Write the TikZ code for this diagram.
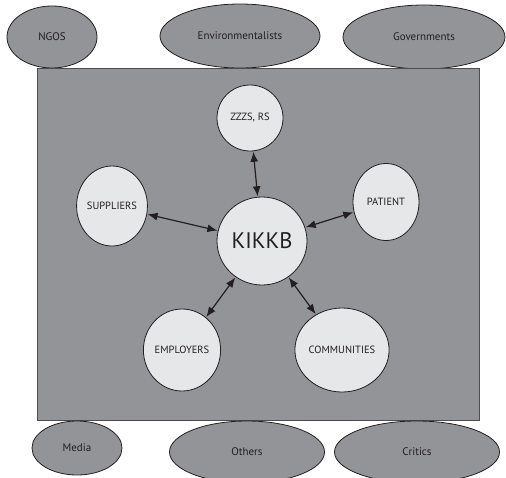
\documentclass[tikz,border=0pt]{standalone}
\usepackage{fontspec}
\setmainfont{PT Sans}
\usetikzlibrary{arrows.meta,shapes.geometric}
\definecolor{panel}{RGB}{147,148,152}
\definecolor{inner}{RGB}{230,231,232}
\definecolor{ink}{RGB}{35,31,32}
\tikzset{
  outer/.style={ellipse,draw=ink,line width=0.8pt,fill=panel,inner sep=0pt,text=ink,font=\fontsize{11}{13}\selectfont},
  stake/.style={ellipse,draw=ink,line width=0.8pt,fill=inner,inner sep=0pt,text=ink,font=\fontsize{10.5}{12}\selectfont},
  link/.style={arrows={Latex[length=10pt,width=8pt]-Latex[length=10pt,width=8pt]},line width=1.2pt,draw=ink,shorten <=0.5pt,shorten >=0.5pt}
}
\begin{document}
\begin{tikzpicture}[x=1pt,y=-1pt]
\useasboundingbox (0,0) rectangle (506,477);
\fill[white] (0,0) rectangle (506,477);
% top ellipses
\node[outer,minimum width=90pt,minimum height=62pt] (ngos) at (52,37) {NGOS};
\node[outer,minimum width=160pt,minimum height=64pt] (env) at (240,36) {Environmentalists};
\node[outer,minimum width=162pt,minimum height=64pt] (gov) at (424,37) {Governments};
% panel
\node[draw=ink!80,line width=0.8pt,fill=panel,minimum width=442pt,minimum height=352pt,inner sep=0pt] (panel) at (258,244) {};
% bottom ellipses
\node[outer,minimum width=90pt,minimum height=54pt] (media) at (77,448) {Media};
\node[outer,minimum width=155pt,minimum height=62pt] (others) at (247,452) {Others};
\node[outer,minimum width=165pt,minimum height=62pt] (critics) at (417,452) {Critics};
% stakeholders
\node[stake,minimum width=90pt,minimum height=88pt,font=\fontsize{22.5}{26}\selectfont] (k) at (262,241) {KIKKB};
\node[stake,minimum width=66pt,minimum height=66pt] (z) at (250,118) {ZZZS, RS};
\node[stake,minimum width=67pt,minimum height=80pt] (s) at (112,206) {SUPPLIERS};
\node[stake,minimum width=66pt,minimum height=77pt] (p) at (386,202) {PATIENT};
\node[stake,minimum width=72pt,minimum height=82pt] (e) at (182,350) {EMPLOYERS};
\node[stake,minimum width=91pt,minimum height=84pt] (c) at (342,350) {COMMUNITIES};
% links
\draw[link] (z) -- (k);
\draw[link] (s) -- (k);
\draw[link] (p) -- (k);
\draw[link] (e) -- (k);
\draw[link] (c) -- (k);
\end{tikzpicture}
\end{document}
